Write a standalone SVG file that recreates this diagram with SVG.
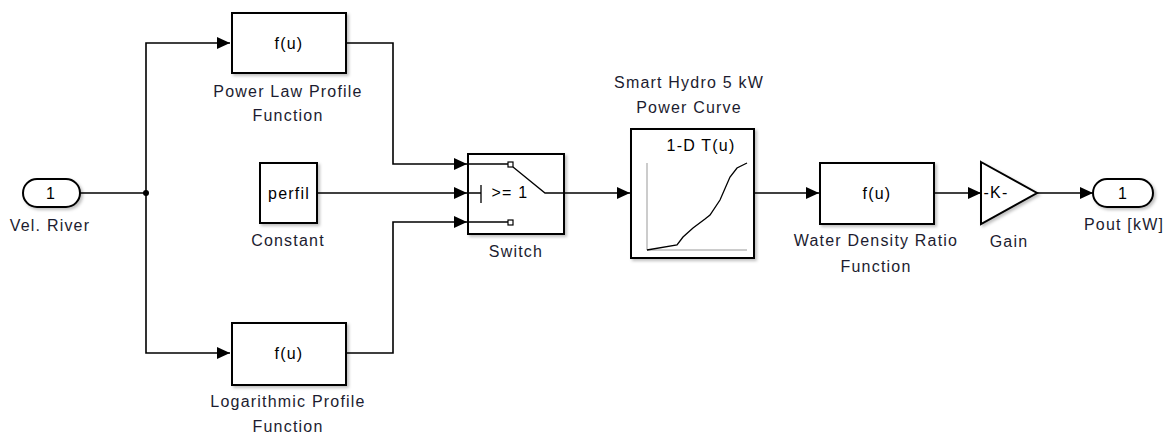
<svg xmlns="http://www.w3.org/2000/svg" width="1172" height="437" viewBox="0 0 1172 437">
<defs>
<style>
.blk{fill:#fff;stroke:#000;stroke-width:2;filter:url(#sh)}
.ln{fill:none;stroke:#000;stroke-width:1.6}
.thin{fill:none;stroke:#000;stroke-width:1.3}
.axis{fill:none;stroke:#999;stroke-width:1}
.lbl{font-family:"Liberation Sans",Arial,sans-serif;font-size:16px;letter-spacing:1.2px;fill:#1c1c30;text-anchor:middle}
.in{font-family:"Liberation Sans",Arial,sans-serif;font-size:16px;letter-spacing:1.2px;fill:#000;text-anchor:middle}
</style>
<filter id="sh" x="-10%" y="-10%" width="130%" height="130%">
<feDropShadow dx="2" dy="2" stdDeviation="1.5" flood-color="#000" flood-opacity="0.25"/>
</filter>
<marker id="arr" markerUnits="userSpaceOnUse" markerWidth="14" markerHeight="12" refX="13" refY="6" orient="auto">
<path d="M0,0 L13,6 L0,12 Z" fill="#000"/>
</marker>
</defs>
<rect width="1172" height="437" fill="#fff"/>

<g id="connectors">
<path class="ln" d="M80,193 H146"/>
<path class="ln" d="M146,193 V43 H230" marker-end="url(#arr)"/>
<path class="ln" d="M146,193 V353 H230" marker-end="url(#arr)"/>
<circle cx="146" cy="193" r="3" fill="#000"/>
<path class="ln" d="M346,43 H393 V164 H467" marker-end="url(#arr)"/>
<path class="ln" d="M317,193 H467" marker-end="url(#arr)"/>
<path class="ln" d="M346,353 H393 V222 H467" marker-end="url(#arr)"/>
<path class="ln" d="M564,193 H630" marker-end="url(#arr)"/>
<path class="ln" d="M754,193 H819" marker-end="url(#arr)"/>
<path class="ln" d="M934,193 H981" marker-end="url(#arr)"/>
<path class="ln" d="M1037,193 H1093" marker-end="url(#arr)"/>
</g>

<g id="vel-river">
<rect class="blk" x="23" y="179" width="57" height="28" rx="14" ry="14"/>
<text class="in" x="51" y="199">1</text>
<text class="lbl" x="50" y="231">Vel. River</text>
</g>

<g id="power-law">
<rect class="blk" x="232" y="13" width="114" height="60"/>
<text class="in" x="289" y="49">f(u)</text>
<text class="lbl" x="288" y="97">Power Law Profile</text>
<text class="lbl" x="288" y="121">Function</text>
</g>

<g id="constant">
<rect class="blk" x="260" y="163" width="57" height="60"/>
<text class="in" x="289" y="199">perfil</text>
<text class="lbl" x="288" y="246">Constant</text>
</g>

<g id="logarithmic">
<rect class="blk" x="232" y="323" width="114" height="62"/>
<text class="in" x="289" y="359">f(u)</text>
<text class="lbl" x="288" y="407">Logarithmic Profile</text>
<text class="lbl" x="288" y="432">Function</text>
</g>

<g id="switch">
<rect class="blk" x="468" y="154" width="96" height="80"/>
<path class="thin" d="M468,164 H508"/>
<rect x="508" y="162" width="5" height="5" fill="#fff" stroke="#000" stroke-width="1.2"/>
<path class="thin" d="M513,167 L545,193 H564"/>
<path class="thin" d="M468,193 H481 M481,185 V203"/>
<text class="in" x="510" y="198">&gt;= 1</text>
<path class="thin" d="M468,222 H508"/>
<rect x="508" y="220" width="5" height="5" fill="#fff" stroke="#000" stroke-width="1.2"/>
<text class="lbl" x="516" y="257">Switch</text>
</g>

<g id="power-curve">
<rect class="blk" x="631" y="129" width="123" height="129"/>
<text class="in" x="701" y="151">1-D  T(u)</text>
<path class="axis" d="M647,163 V250 H747"/>
<polyline class="thin" points="647,250 677,245 683,237 693,228 705,219 710,215 720,200 730,177 737,168 747,163"/>
<text class="lbl" x="689" y="88">Smart Hydro 5 kW</text>
<text class="lbl" x="689" y="113">Power Curve</text>
</g>

<g id="water-density">
<rect class="blk" x="820" y="163" width="114" height="61"/>
<text class="in" x="877" y="199">f(u)</text>
<text class="lbl" x="876" y="246">Water Density Ratio</text>
<text class="lbl" x="876" y="272">Function</text>
</g>

<g id="gain">
<polygon class="blk" points="981,162 1037,193 981,224"/>
<text class="in" x="996" y="198">-K-</text>
<text class="lbl" x="1009" y="247">Gain</text>
</g>

<g id="pout">
<rect class="blk" x="1093" y="179" width="60" height="28" rx="14" ry="14"/>
<text class="in" x="1123" y="199">1</text>
<text class="lbl" x="1124" y="230">Pout [kW]</text>
</g>
</svg>
